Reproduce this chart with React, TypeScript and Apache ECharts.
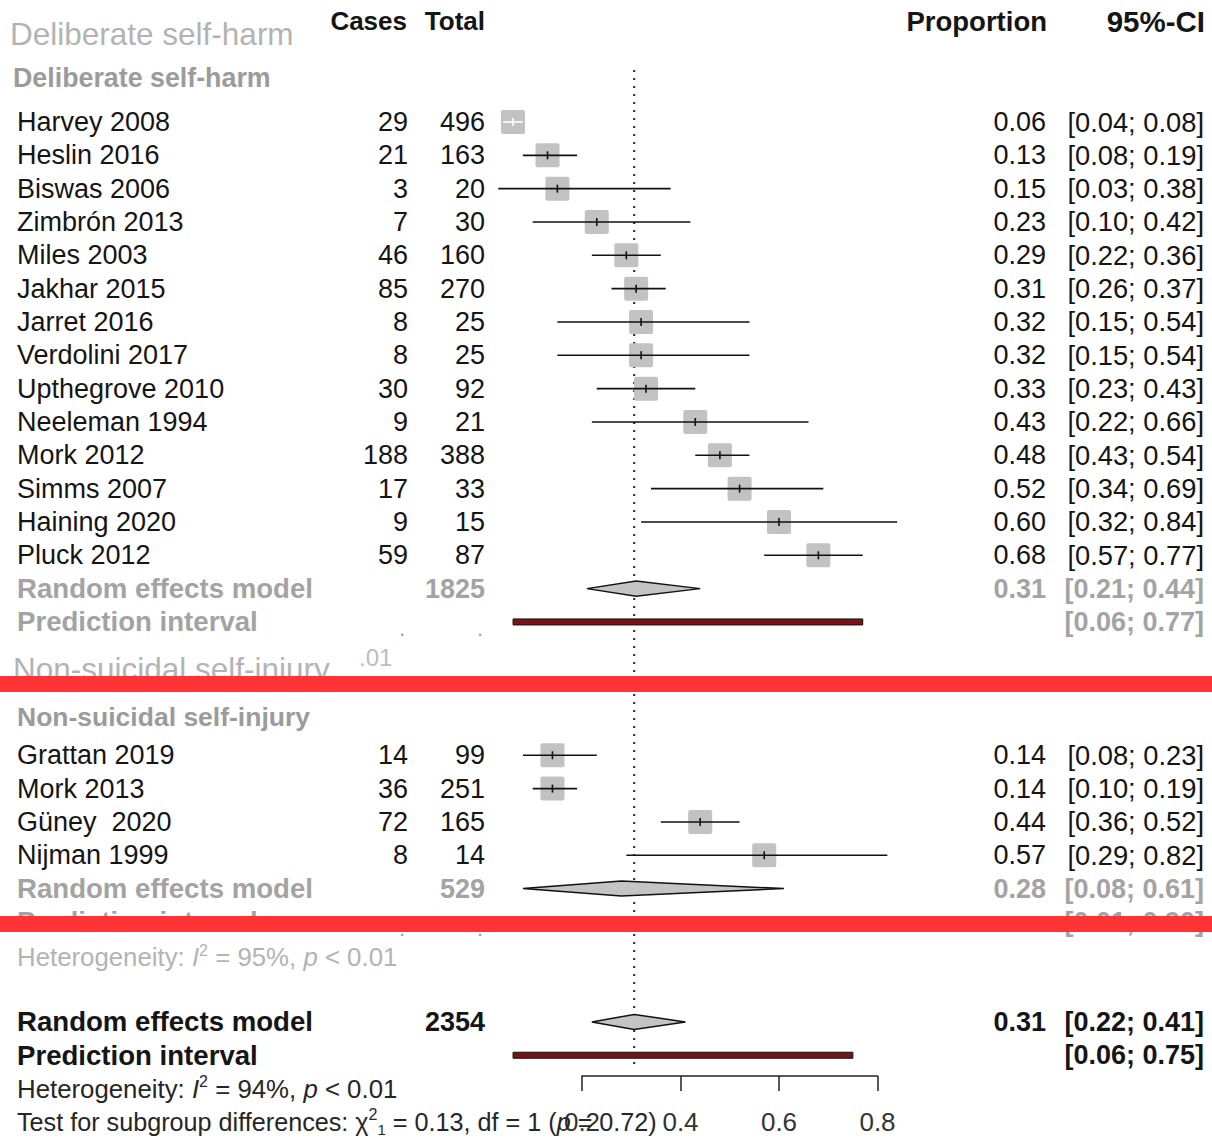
import React, { useEffect, useRef } from 'react';
import * as echarts from 'echarts';

// ---------- data ----------
const dshStudies = ['Harvey 2008', 'Heslin 2016', 'Biswas 2006', 'Zimbrón 2013', 'Miles 2003', 'Jakhar 2015', 'Jarret 2016', 'Verdolini 2017', 'Upthegrove 2010', 'Neeleman 1994', 'Mork 2012', 'Simms 2007', 'Haining 2020', 'Pluck 2012'];
const dshCases = [29, 21, 3, 7, 46, 85, 8, 8, 30, 9, 188, 17, 9, 59];
const dshTotal = [496, 163, 20, 30, 160, 270, 25, 25, 92, 21, 388, 33, 15, 87];
const dshProp = [0.06, 0.13, 0.15, 0.23, 0.29, 0.31, 0.32, 0.32, 0.33, 0.43, 0.48, 0.52, 0.60, 0.68];
const dshLower = [0.04, 0.08, 0.03, 0.10, 0.22, 0.26, 0.15, 0.15, 0.23, 0.22, 0.43, 0.34, 0.32, 0.57];
const dshUpper = [0.08, 0.19, 0.38, 0.42, 0.36, 0.37, 0.54, 0.54, 0.43, 0.66, 0.54, 0.69, 0.84, 0.77];

const nssiStudies = ['Grattan 2019', 'Mork 2013', 'Güney  2020', 'Nijman 1999'];
const nssiCases = [14, 36, 72, 8];
const nssiTotal = [99, 251, 165, 14];
const nssiProp = [0.14, 0.14, 0.44, 0.57];
const nssiLower = [0.08, 0.10, 0.36, 0.29];
const nssiUpper = [0.23, 0.19, 0.52, 0.82];

// summaries: [DSH subgroup, NSSI subgroup, overall]
const sumTotals = [1825, 529, 2354];
const sumEst = [0.31, 0.28, 0.306];
const sumLower = [0.21, 0.08, 0.22];
const sumUpper = [0.44, 0.61, 0.41];
const predLower = [0.06, 0.01, 0.06];
const predUpper = [0.77, 0.90, 0.75];
const hetI2 = ['95%', '94%'];

const groupNames = ['Deliberate self-harm', 'Non-suicidal self-injury'];
const headers = ['Cases', 'Total', 'Proportion', '95%-CI'];
const xTicks = [0.2, 0.4, 0.6, 0.8];

// ---------- layout ----------
const W = 1212;
const H = 1138;
const X0 = 483.5; // pixel of proportion 0
const XS = 492.5; // pixels per unit
const Y0 = 122; // pixel of row 0
const RH = 33.33; // row height
const XMIN = -X0 / XS;
const XMAX = (W - X0) / XS;
const YMIN = -Y0 / RH;
const YMAX = (H - Y0) / RH;
const rowOf = (py: number) => (py - Y0) / RH;

const FONT = '"Liberation Sans", Arial, Helvetica, sans-serif';
const COL_STUDY = 17;
const COL_CASES = 408;
const COL_TOTAL = 485;
const COL_PROP = 1046;
const COL_CI = 1204;
const BOX = 24;

const BLACK = '#151515';
const GREY = '#a3a3a3';
const LIGHT = '#b3b3b3';

const fmt = (v: number) => v.toFixed(2);
const ci = (l: number, u: number) => `[${fmt(l)}; ${fmt(u)}]`;

type T = { x: number; r: number; text: string; align?: string; size?: number; bold?: boolean; color?: string; rich?: boolean };
const texts: T[] = [];
const add = (t: T) => texts.push(t);

// headers
const rHead = rowOf(21);
add({ x: 407, r: rHead, text: headers[0], align: 'right', size: 26, bold: true, color: BLACK });
add({ x: 485, r: rHead, text: headers[1], align: 'right', size: 26, bold: true, color: BLACK });
add({ x: 1047, r: rHead, text: headers[2], align: 'right', size: 27.5, bold: true, color: BLACK });
add({ x: 1205, r: rHead, text: headers[3], align: 'right', size: 29.5, bold: true, color: BLACK });
add({ x: 10, r: rowOf(34), text: groupNames[0], size: 31.5, color: LIGHT });
add({ x: 13, r: rowOf(78), text: groupNames[0], size: 26.8, bold: true, color: '#9b9b9b' });

const rowsDsh = dshStudies.map((_, i) => i);
const rowsNssi = nssiStudies.map((_, i) => 19 + i);
const rowSum = [14, 23, 27];
const rowPred = [15, 24, 28];

const studyRow = (name: string, c: number, t: number, p: number, l: number, u: number, r: number) => {
  add({ x: COL_STUDY, r, text: name, size: 27, color: BLACK });
  add({ x: COL_CASES, r, text: String(c), align: 'right', size: 27, color: BLACK });
  add({ x: COL_TOTAL, r, text: String(t), align: 'right', size: 27, color: BLACK });
  add({ x: COL_PROP, r, text: fmt(p), align: 'right', size: 27, color: BLACK });
  add({ x: COL_CI, r, text: ci(l, u), align: 'right', size: 27.3, color: BLACK });
};
dshStudies.forEach((n, i) => studyRow(n, dshCases[i], dshTotal[i], dshProp[i], dshLower[i], dshUpper[i], rowsDsh[i]));
nssiStudies.forEach((n, i) => studyRow(n, nssiCases[i], nssiTotal[i], nssiProp[i], nssiLower[i], nssiUpper[i], rowsNssi[i]));

[0, 1, 2].forEach((k) => {
  const col = k < 2 ? GREY : BLACK;
  const r = rowSum[k];
  add({ x: COL_STUDY, r, text: 'Random effects model', size: 27.6, bold: true, color: col });
  add({ x: COL_TOTAL, r, text: String(sumTotals[k]), align: 'right', size: 27, bold: true, color: col });
  add({ x: COL_PROP, r, text: fmt(sumEst[k]), align: 'right', size: 27, bold: true, color: col });
  add({ x: COL_CI, r, text: ci(sumLower[k], sumUpper[k]), align: 'right', size: 27, bold: true, color: col });
  const rp = rowPred[k];
  add({ x: COL_STUDY, r: rp, text: 'Prediction interval', size: 27.6, bold: true, color: col });
  add({ x: COL_CI, r: rp, text: ci(predLower[k], predUpper[k]), align: 'right', size: 27, bold: true, color: col });
  if (k < 2) {
    add({ x: 405, r: rp + 0.2, text: '.', align: 'right', size: 22, color: GREY });
    add({ x: 483, r: rp + 0.2, text: '.', align: 'right', size: 22, color: GREY });
  }
});

add({ x: 13, r: rowOf(669), text: groupNames[1], size: 31.5, color: LIGHT });
add({ x: 359, r: rowOf(657), text: '.01', size: 24, color: '#bdbdbd' });
add({ x: 17, r: rowOf(717), text: groupNames[1], size: 26.5, bold: true, color: '#9b9b9b' });

add({ x: COL_STUDY, r: rowOf(957), text: `Heterogeneity: {it|I}{sup|2} = ${hetI2[0]}, {it|p} < 0.01`, size: 25.8, color: LIGHT, rich: true });
add({ x: COL_STUDY, r: 29, text: `Heterogeneity: {it|I}{sup|2} = ${hetI2[1]}, {it|p} < 0.01`, size: 25.8, color: '#262626', rich: true });
add({ x: COL_STUDY, r: 30, text: 'Test for subgroup differences: χ{sup|2}{sub|1} = 0.13, df = 1 ({it|p} = 0.72)', size: 25.2, color: '#262626', rich: true });

// ---------- marks ----------
const studyData = [
  ...dshProp.map((p, i) => [p, rowsDsh[i], dshLower[i], dshUpper[i]]),
  ...nssiProp.map((p, i) => [p, rowsNssi[i], nssiLower[i], nssiUpper[i]]),
];
const diamondData = sumEst.map((e, k) => [e, rowSum[k], sumLower[k], sumUpper[k]]);
const predData = predLower.map((l, k) => [l, rowPred[k], predUpper[k]]);
const refLine = [[sumEst[2], rowOf(70)], [sumEst[2], rowOf(1070)]];

export default function App() {
  const ref = useRef<HTMLDivElement>(null);
  useEffect(() => {
    document.body.style.margin = '0';
    const chart = echarts.init(ref.current!, undefined, { renderer: 'svg' });
    chart.setOption({
      animation: false,
      backgroundColor: '#ffffff',
      grid: [
        { left: 0, top: 0, width: W, height: H },
        { left: X0 + 0.2 * XS, top: 1000, width: 0.6 * XS, height: 76 },
      ],
      xAxis: [
        { type: 'value', gridIndex: 0, min: XMIN, max: XMAX, show: false },
        {
          type: 'value', gridIndex: 1, min: 0.2, max: 0.8, interval: 0.2,
          axisLine: { show: true, lineStyle: { color: '#222', width: 1.5 } },
          axisTick: { show: true, length: 15, lineStyle: { color: '#222', width: 1.5 } },
          splitLine: { show: false },
          axisLabel: { margin: 33, fontSize: 26, color: '#333', fontFamily: FONT, formatter: (v: number) => (xTicks.includes(Math.round(v * 10) / 10) ? v.toFixed(1) : '') },
        },
      ],
      yAxis: [
        { type: 'value', gridIndex: 0, min: YMIN, max: YMAX, inverse: true, show: false },
        { type: 'value', gridIndex: 1, show: false },
      ],
      series: [
        {
          type: 'line', xAxisIndex: 0, yAxisIndex: 0, data: refLine, symbol: 'none', silent: true,
          lineStyle: { color: '#222', width: 2, type: [2, 6] }, z: 1,
        },
        {
          type: 'custom', xAxisIndex: 0, yAxisIndex: 0, data: predData, clip: false, z: 3,
          encode: { x: 0, y: 1 },
          renderItem: (_p: any, api: any) => {
            const r = api.value(1);
            const a = api.coord([api.value(0), r]);
            const b = api.coord([api.value(2), r]);
            return { type: 'rect', shape: { x: a[0], y: a[1] - 3, width: b[0] - a[0], height: 6 }, style: { fill: '#7a1414', stroke: '#111', lineWidth: 1 } };
          },
        },
        {
          type: 'custom', xAxisIndex: 0, yAxisIndex: 0, data: diamondData, clip: false, z: 3,
          encode: { x: 0, y: 1 },
          renderItem: (_p: any, api: any) => {
            const r = api.value(1);
            const c = api.coord([api.value(0), r]);
            const l = api.coord([api.value(2), r]);
            const u = api.coord([api.value(3), r]);
            const h = 7.5;
            return {
              type: 'polygon',
              shape: { points: [[l[0], c[1]], [c[0], c[1] - h], [u[0], c[1]], [c[0], c[1] + h]] },
              style: { fill: '#c4c4c4', stroke: '#111', lineWidth: 1.5 },
            };
          },
        },
        {
          type: 'custom', xAxisIndex: 0, yAxisIndex: 0, data: studyData, clip: false, z: 3,
          encode: { x: 0, y: 1 },
          renderItem: (_p: any, api: any) => {
            const r = api.value(1);
            const c = api.coord([api.value(0), r]);
            const l = api.coord([api.value(2), r]);
            const u = api.coord([api.value(3), r]);
            const inside = l[0] >= c[0] - BOX / 2 && u[0] <= c[0] + BOX / 2;
            const lc = inside ? '#ffffff' : '#111111';
            return {
              type: 'group',
              children: [
                { type: 'rect', shape: { x: c[0] - BOX / 2, y: c[1] - BOX / 2, width: BOX, height: BOX, r: 2 }, style: { fill: '#c2c2c2' } },
                { type: 'line', shape: { x1: l[0], y1: c[1], x2: u[0], y2: c[1] }, style: { stroke: lc, lineWidth: 1.6 } },
                { type: 'line', shape: { x1: c[0], y1: c[1] - 4, x2: c[0], y2: c[1] + 4 }, style: { stroke: lc, lineWidth: 1.6 } },
              ],
            };
          },
        },
        {
          type: 'custom', xAxisIndex: 0, yAxisIndex: 0, data: texts.map((t) => [0, t.r]), clip: false, z: 4,
          encode: { x: 0, y: 1 },
          renderItem: (p: any, api: any) => {
            const t = texts[p.dataIndex];
            const y = api.coord([0, t.r])[1];
            const size = t.size || 27;
            const color = t.color || BLACK;
            const base: any = {
              legacy: false,
              text: t.text,
              fill: color,
              fontSize: size,
              fontFamily: FONT,
              fontWeight: t.bold ? 'bold' : 'normal',
              align: t.align || 'left',
              verticalAlign: 'middle',
            };
            if (t.rich) {
              base.lineHeight = 30;
              base.rich = {
                it: { fontStyle: 'italic', fontSize: size, fontFamily: FONT, fill: color, lineHeight: 30 },
                sup: { fontSize: 16, fontFamily: FONT, fill: color, verticalAlign: 'top', lineHeight: 15 },
                sub: { fontSize: 15, fontFamily: FONT, fill: color, verticalAlign: 'bottom', lineHeight: 13 },
              };
            }
            return { type: 'text', x: t.x, y, style: base };
          },
        },
      ],
      graphic: [
        { type: 'rect', z: 100, shape: { x: 0, y: 676, width: W, height: 16 }, style: { fill: '#fe3334' } },
        { type: 'rect', z: 100, shape: { x: 0, y: 916, width: W, height: 16 }, style: { fill: '#fe3334' } },
      ],
    });
    return () => chart.dispose();
  }, []);
  return <div ref={ref} style={{ width: W, height: H }} />;
}
